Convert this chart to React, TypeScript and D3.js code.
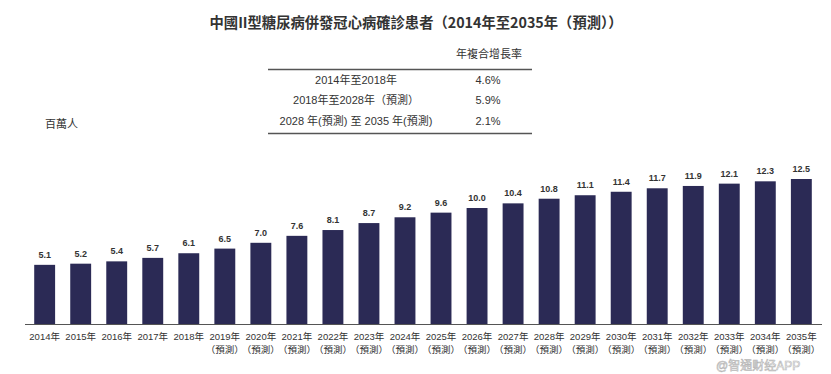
import { useEffect, useRef } from "react";
import * as d3 from "d3";

const years = [
  "2014年", "2015年", "2016年", "2017年", "2018年", "2019年", "2020年", "2021年",
  "2022年", "2023年", "2024年", "2025年", "2026年", "2027年", "2028年", "2029年",
  "2030年", "2031年", "2032年", "2033年", "2034年", "2035年",
];
const forecast = [
  false, false, false, false, false, true, true, true, true, true, true, true,
  true, true, true, true, true, true, true, true, true, true,
];
const values = [
  5.1, 5.2, 5.4, 5.7, 6.1, 6.5, 7.0, 7.6, 8.1, 8.7, 9.2, 9.6, 10.0, 10.4, 10.8,
  11.1, 11.4, 11.7, 11.9, 12.1, 12.3, 12.5,
];
const cagrPeriods = ["2014年至2018年", "2018年至2028年（預測）", "2028 年(預測) 至 2035 年(預測)"];
const cagrValues = ["4.6%", "5.9%", "2.1%"];

const W = 831;
const H = 374;
const FONT = "'Liberation Sans', 'Noto Sans CJK TC', sans-serif";

const App = () => {
  const ref = useRef<SVGSVGElement>(null);

  useEffect(() => {
    const svg = d3.select(ref.current);
    svg.selectAll("*").remove();

    const x0 = 25, x1 = 822, base = 324;
    const x = d3.scaleBand().domain(years).range([x0 + 2, x1 - 3]).paddingInner(0.42).paddingOuter(0.2);
    const y = d3.scaleLinear().domain([0, 12.5]).range([base, 179]);

    svg.append("text")
      .attr("x", 416).attr("y", 28)
      .attr("text-anchor", "middle")
      .attr("font-size", 14.3).attr("font-weight", "bold")
      .attr("fill", "#333")
      .text("中國II型糖尿病併發冠心病確診患者（2014年至2035年（預測））");

    // CAGR table
    const t = svg.append("g").attr("font-family", FONT).attr("fill", "#333");
    t.append("text").attr("x", 489).attr("y", 58).attr("text-anchor", "middle")
      .attr("font-size", 11).text("年複合增長率");
    t.append("line").attr("x1", 268).attr("x2", 532).attr("y1", 69.5).attr("y2", 69.5)
      .attr("stroke", "#555").attr("stroke-width", 1.3);
    t.append("line").attr("x1", 268).attr("x2", 532).attr("y1", 133.5).attr("y2", 133.5)
      .attr("stroke", "#555").attr("stroke-width", 1.3);
    cagrPeriods.forEach((p, i) => {
      const yy = 80 + i * 20.5;
      t.append("text").attr("x", 356).attr("y", yy).attr("dy", "0.35em")
        .attr("text-anchor", "middle").attr("font-size", 11).text(p);
      t.append("text").attr("x", 488).attr("y", yy).attr("dy", "0.35em")
        .attr("text-anchor", "middle").attr("font-size", 11).text(cagrValues[i]);
    });

    svg.append("text").attr("x", 45).attr("y", 128)
      .attr("font-size", 11).attr("fill", "#333").text("百萬人");

    const g = svg.append("g").attr("font-family", FONT);
    g.selectAll("rect").data(values).enter().append("rect")
      .attr("x", (_, i) => x(years[i])!)
      .attr("width", x.bandwidth())
      .attr("y", (d) => y(d))
      .attr("height", (d) => base - y(d))
      .attr("fill", "#2b2a55");

    g.selectAll(".val").data(values).enter().append("text")
      .attr("x", (_, i) => x(years[i])! + x.bandwidth() / 2)
      .attr("y", (d) => y(d) - 7)
      .attr("text-anchor", "middle")
      .attr("font-size", 9).attr("font-weight", "bold").attr("fill", "#333")
      .text((d) => d.toFixed(1));

    g.append("line").attr("x1", x0).attr("x2", x1).attr("y1", base + 0.5).attr("y2", base + 0.5)
      .attr("stroke", "#555").attr("stroke-width", 1.2);

    years.forEach((yr, i) => {
      const cx = x(yr)! + x.bandwidth() / 2;
      g.append("text").attr("x", cx).attr("y", 340).attr("text-anchor", "middle")
        .attr("font-size", 9.5).attr("fill", "#333").text(yr);
      if (forecast[i]) {
        g.append("text").attr("x", cx).attr("y", 353).attr("text-anchor", "middle")
          .attr("font-size", 9.5).attr("fill", "#333").text("（預測）");
      }
    });

    svg.append("text").attr("x", 716).attr("y", 370)
      .attr("font-family", FONT).attr("font-size", 12)
      .attr("fill", "#fff").attr("stroke", "#aaa").attr("stroke-width", 0.6)
      .attr("opacity", 0.85)
      .text("@智通财经APP");
  }, []);

  return (
    <div style={{ position: "absolute", left: 0, top: 0 }}>
      <svg ref={ref} width={W} height={H} style={{ display: "block", background: "#fff" }}
        fontFamily={"'Noto Sans CJK TC', sans-serif"} />
    </div>
  );
};

export default App;
